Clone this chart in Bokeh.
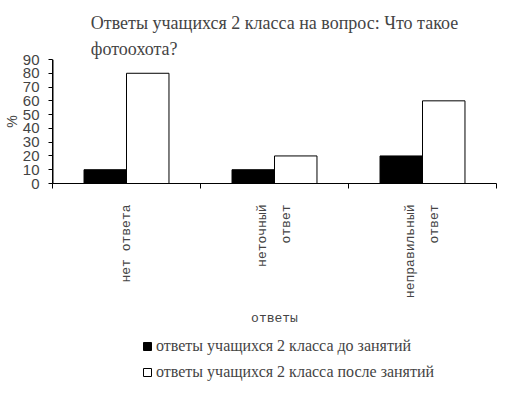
import math
from bokeh.plotting import figure
from bokeh.layouts import column
from bokeh.models import (Range1d, LinearAxis, FixedTicker, Legend, LegendItem, ColumnDataSource, Span)
from bokeh.embed import file_html
from bokeh.resources import INLINE

categories = ["нет ответа", "неточный\nответ", "неправильный\nответ"]
before = [10, 10, 20]
after = [80, 20, 60]
series_names = ["ответы учащихся 2 класса до занятий", "ответы учащихся 2 класса после занятий"]
series_colors = ["black", "white"]
y_ticks = [0, 10, 20, 30, 40, 50, 60, 70, 80, 90]
title_text = "Ответы учащихся 2 класса на вопрос: Что такое\nфотоохота?"

n = len(categories)
centers = [i + 0.5 for i in range(n)]
bw = 0.287
off = bw / 2
src = ColumnDataSource(dict(xb=[c - off for c in centers], xa=[c + off for c in centers],
                            before=before, after=after))

p = figure(frame_width=444, frame_height=124, x_range=Range1d(0, n),
           y_range=Range1d(0, 90), output_backend="svg", toolbar_location=None,
           x_axis_location=None, y_axis_location=None)
p.margin = (10, 0, 0, 0)
p.min_border_left = 45
p.min_border_right = 6
p.min_border_top = 48
p.min_border_bottom = 149
p.outline_line_color = None
p.xgrid.visible = False
p.ygrid.visible = False
p.background_fill_color = "white"
p.border_fill_color = "white"

p.title.text = title_text
p.title.align = "center"
p.title.text_font = "Liberation Serif"
p.title.text_font_size = "18px"
p.title.text_font_style = "normal"
p.title.text_line_height = 1.33
p.title.standoff = 0

r1 = p.vbar(x="xb", top="before", width=bw, source=src, fill_color=series_colors[0], line_color="black")
r2 = p.vbar(x="xa", top="after", width=bw, source=src, fill_color=series_colors[1], line_color="black")

# y axis
ya = LinearAxis(ticker=FixedTicker(ticks=y_ticks))
ya.axis_line_color = "black"
ya.axis_line_width = 1
ya.major_tick_line_color = "black"
ya.major_tick_line_width = 1
ya.major_tick_out = 4
ya.major_tick_in = 0
ya.minor_tick_line_color = None
ya.major_label_text_font = "Liberation Sans"
ya.major_label_text_font_size = "15px"
ya.major_label_standoff = 9
ya.axis_label = "%"
ya.axis_label_text_font = "Liberation Sans"
ya.axis_label_text_font_size = "14px"
ya.axis_label_text_font_style = "normal"
ya.axis_label_standoff = 0
p.add_layout(ya, "left")

# visible vertical axis line at the range start
p.add_layout(Span(location=p.x_range.start, dimension="height", line_color="black", line_width=2))

# boundary ticks axis
ta = LinearAxis(ticker=FixedTicker(ticks=list(range(n + 1))))
ta.major_label_text_font_size = "0px"
ta.major_label_standoff = 0
ta.major_tick_in = 0
ta.major_tick_out = 5
ta.minor_tick_line_color = None
ta.axis_line_color = "black"
p.add_layout(ta, "below")

ca = LinearAxis(ticker=FixedTicker(ticks=centers),
                major_label_overrides={c: lab for c, lab in zip(centers, categories)})
ca.axis_line_color = None
ca.major_tick_line_color = None
ca.minor_tick_line_color = None
ca.major_label_orientation = math.pi / 2
ca.major_label_text_font = "Liberation Mono"
ca.major_label_text_font_size = "13px"
ca.major_label_text_line_height = 1.6
ca.major_label_standoff = 10
ca.axis_label = "ответы"
ca.axis_label_text_font = "Liberation Mono"
ca.axis_label_text_font_size = "13px"
ca.axis_label_text_font_style = "normal"
ca.axis_label_standoff = 10
p.add_layout(ca, "below")

# legend strip (keys reuse the same data, kept outside its visible ranges)
p2 = figure(width=495, height=51, x_range=Range1d(10, 11), y_range=Range1d(100, 101),
            output_backend="svg", toolbar_location=None,
            x_axis_location=None, y_axis_location=None)
p2.min_border_left = 0
p2.min_border_right = 0
p2.min_border_top = 0
p2.min_border_bottom = 0
p2.outline_line_color = None
p2.xgrid.visible = False
p2.ygrid.visible = False
k1 = p2.vbar(x="xb", top="before", width=bw, source=src, fill_color=series_colors[0], line_color="black")
k2 = p2.vbar(x="xa", top="after", width=bw, source=src, fill_color=series_colors[1], line_color="black")

legend = Legend(items=[LegendItem(label=series_names[0], renderers=[k1]),
                       LegendItem(label=series_names[1], renderers=[k2])],
                location=(90, 1), orientation="vertical")
legend.border_line_color = None
legend.background_fill_alpha = 0
legend.glyph_width = 10
legend.glyph_height = 10
legend.label_text_font = "Liberation Serif"
legend.label_text_font_size = "16px"
legend.label_height = 20
legend.spacing = 6
legend.label_standoff = 4
legend.margin = 0
legend.padding = 0
p2.add_layout(legend)

layout = column(p, p2, spacing=0)
open("out.html", "w").write(file_html(layout, INLINE))
